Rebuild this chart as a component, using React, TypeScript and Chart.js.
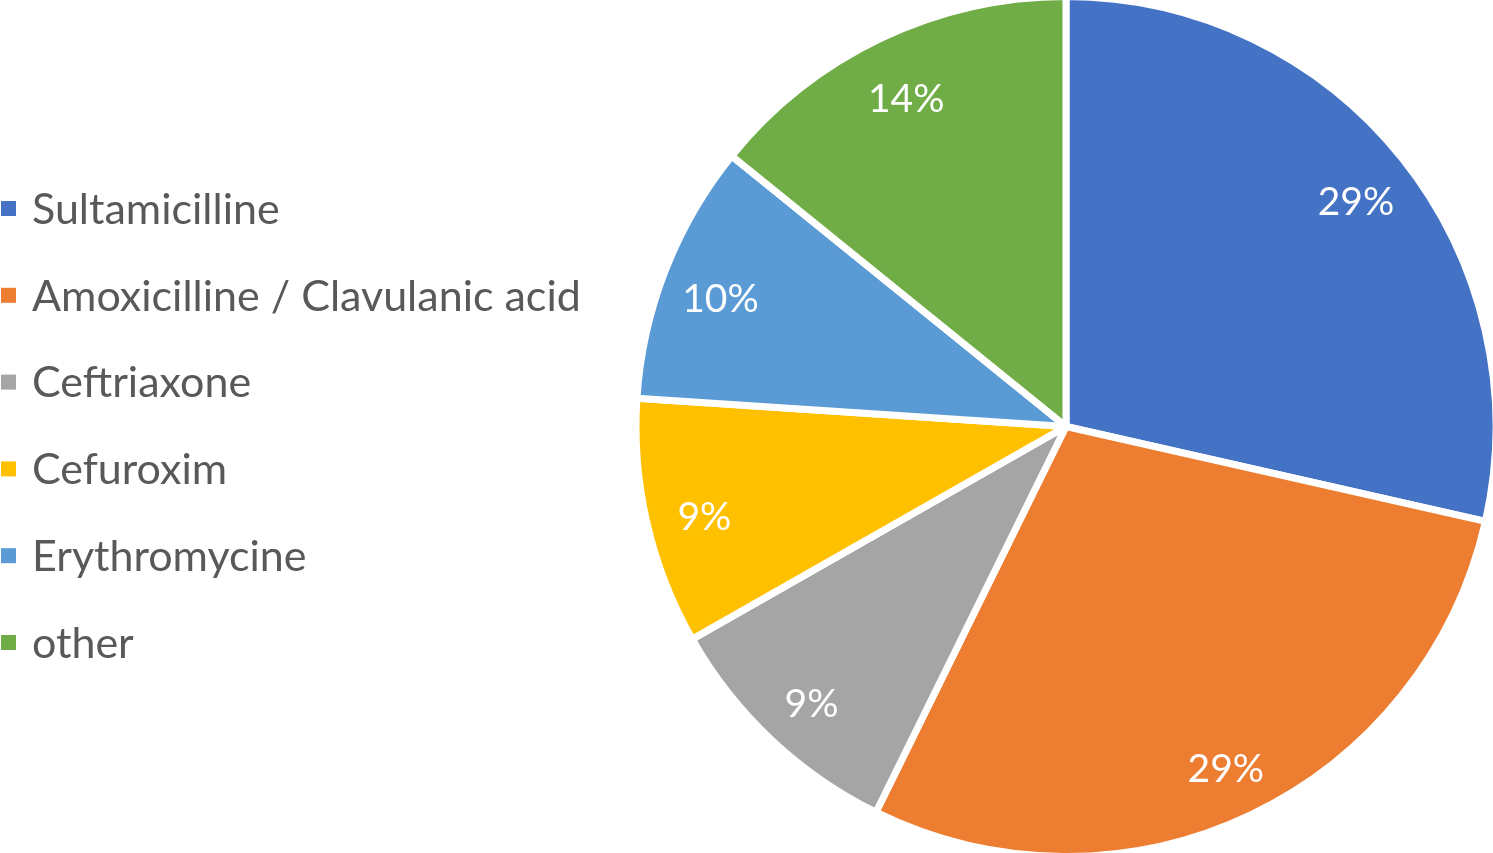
import React, { useEffect, useRef } from "react";
import { Chart, registerables } from "chart.js";

Chart.register(...registerables);

const categories = [
  "Sultamicilline",
  "Amoxicilline / Clavulanic acid",
  "Ceftriaxone",
  "Cefuroxim",
  "Erythromycine",
  "other",
];
const values = [28.6, 28.8, 9.5, 9.3, 9.8, 14.2];
const percentLabels = ["29%", "29%", "9%", "9%", "10%", "14%"];
const colors = ["#4472C4", "#ED7D31", "#A5A5A5", "#FFC000", "#5B9BD5", "#70AD47"];

const FONT = "Lato, 'Open Sans', sans-serif";

const legendPlugin = {
  id: "customLegend",
  afterDraw(chart: any) {
    const ctx = chart.ctx;
    ctx.save();
    ctx.font = `43px ${FONT}`;
    ctx.textBaseline = "middle";
    ctx.textAlign = "left";
    const top = 209;
    const step = 86.8;
    categories.forEach((c, i) => {
      const y = top + i * step;
      ctx.fillStyle = colors[i];
      ctx.fillRect(1, y - 8, 15, 15);
      ctx.fillStyle = "#595959";
      ctx.fillText(c, 32, y + 1);
    });
    ctx.restore();
  },
};

const labelPlugin = {
  id: "sliceLabels",
  afterDatasetsDraw(chart: any) {
    const ctx = chart.ctx;
    const meta = chart.getDatasetMeta(0);
    ctx.save();
    ctx.font = `39px ${FONT}`;
    ctx.fillStyle = "#FFFFFF";
    ctx.textAlign = "center";
    ctx.textBaseline = "middle";
    meta.data.forEach((arc: any, i: number) => {
      const p = arc.getProps(["startAngle", "endAngle", "outerRadius", "x", "y"], true);
      const mid = (p.startAngle + p.endAngle) / 2;
      const r = (p.outerRadius - 3.5) * 0.87;
      ctx.fillText(percentLabels[i], p.x + Math.cos(mid) * r, p.y + Math.sin(mid) * r + 8);
    });
    ctx.restore();
  },
};

export default function App() {
  const ref = useRef<HTMLCanvasElement | null>(null);
  useEffect(() => {
    document.body.style.margin = "0";
    const chart = new Chart(ref.current!, {
      type: "pie",
      data: {
        labels: categories,
        datasets: [
          {
            data: values,
            backgroundColor: colors,
            borderColor: "#FFFFFF",
            borderWidth: 7,
            hoverBorderWidth: 7,
            hoverOffset: 0,
          },
        ],
      },
      options: {
        responsive: false,
        animation: false,
        radius: 430,
        layout: { padding: { left: 639, top: 0, right: 0, bottom: 0 } },
        plugins: {
          legend: { display: false },
          tooltip: { enabled: false },
        },
      } as any,
      plugins: [legendPlugin, labelPlugin],
    });
    return () => chart.destroy();
  }, []);
  return (
    <div style={{ width: 1493, height: 853, background: "#fff" }}>
      <canvas ref={ref} width={1493} height={853} style={{ display: "block" }} />
    </div>
  );
}
